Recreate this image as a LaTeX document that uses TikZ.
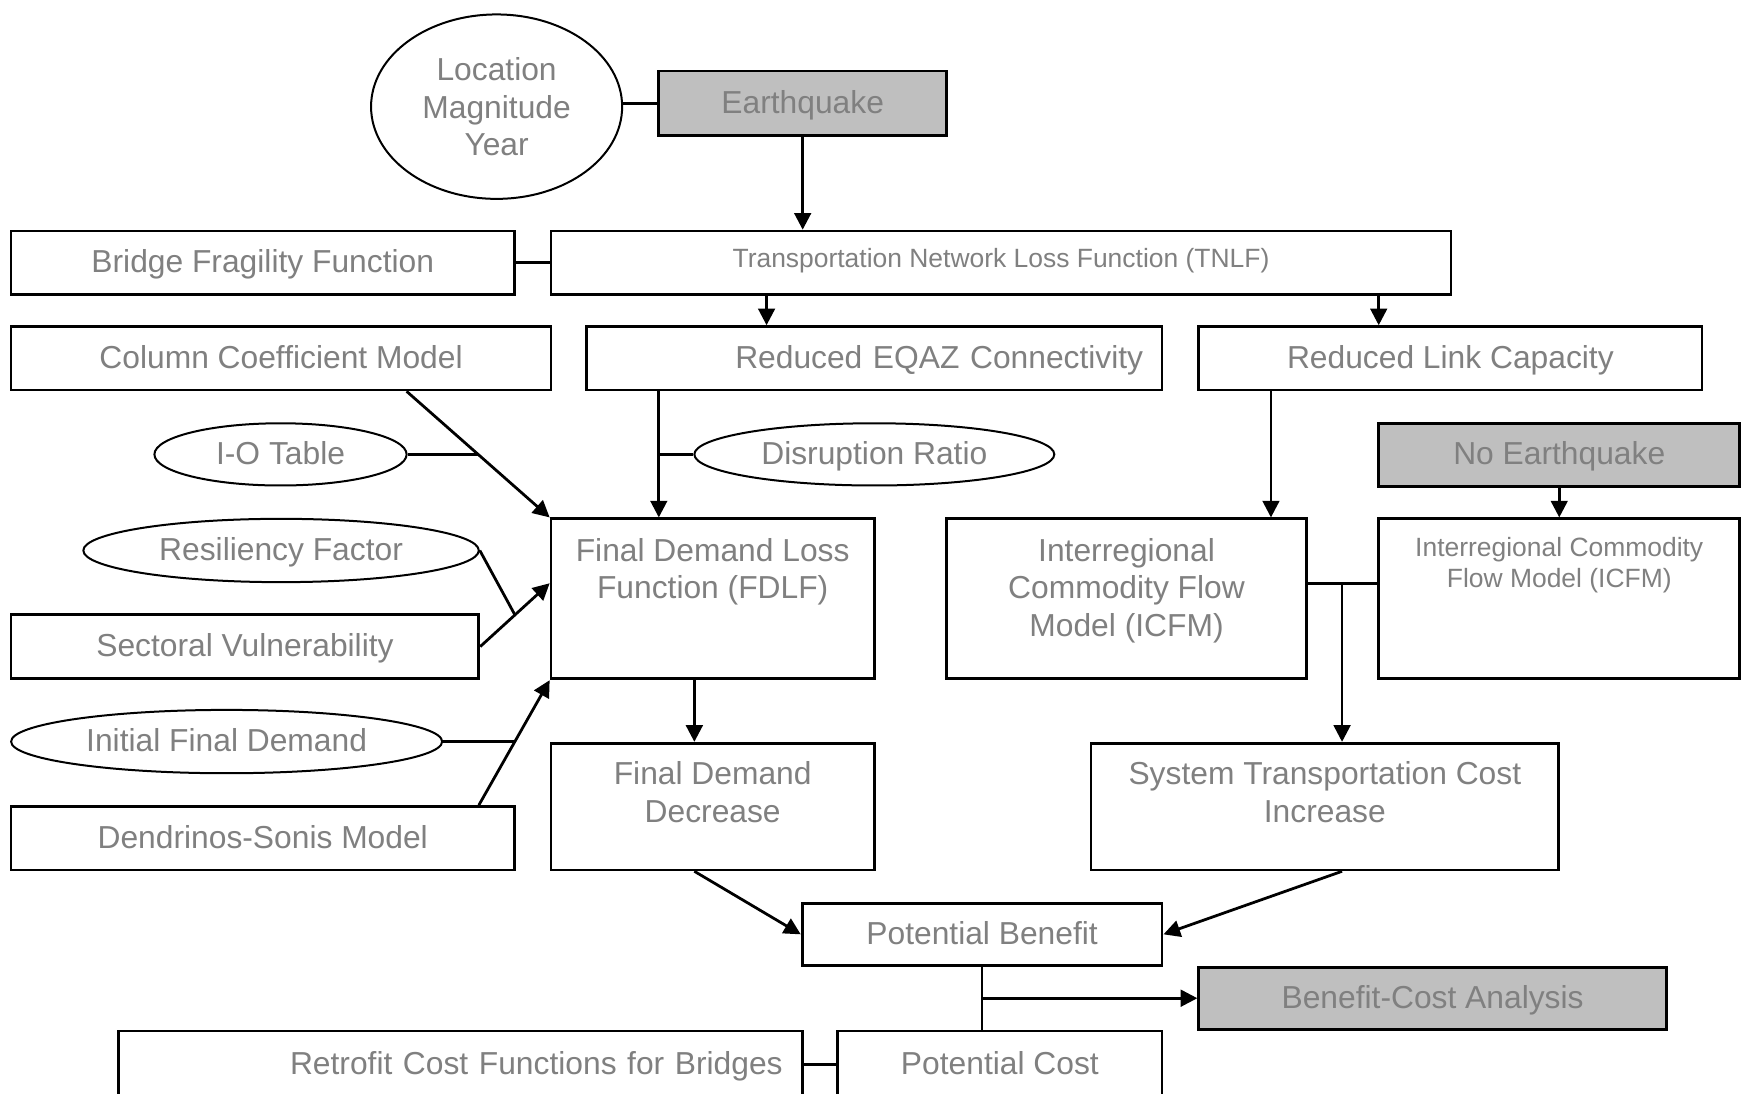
\documentclass[tikz,border=0pt]{standalone}
\usepackage{fontspec}
\setmainfont{Liberation Sans}
\usetikzlibrary{shapes.geometric,arrows.meta,calc}

\definecolor{txtgray}{RGB}{128,128,128}
\definecolor{boxgray}{RGB}{191,191,191}

\begin{document}
\begin{tikzpicture}[x=0.5pt, y=-0.5pt,
    every node/.style={text=txtgray, font=\fontsize{14.3}{17}\selectfont, inner sep=0pt, align=center},
    box/.style={draw=black, line width=1.25pt, rectangle, text height=11.2pt, text depth=2.3pt},
    shaded/.style={box, fill=boxgray},
    oval/.style={draw=black, line width=0.9pt, ellipse},
    flatoval/.style={oval, text height=11.2pt, text depth=2.3pt},
    small/.style={font=\fontsize{11.9}{14}\selectfont},
    link/.style={line width=1.25pt},
    arr/.style={line width=1.25pt, -{Triangle[length=7.5pt,width=7.5pt]}}]
        \clip (0,0) rectangle (1568,984);
        \fill[white] (0,0) rectangle (1568,984);

        \node[oval, minimum width=113pt, minimum height=83pt] (lmy) at (447,96) {Location\\Magnitude\\Year};
        \node[shaded, minimum width=129.5pt, minimum height=29pt] (quake) at (722.5,93) {Earthquake};
        \node[box, minimum width=226.5pt, minimum height=28.5pt] (bff) at (236.5,236.5) {Bridge Fragility Function};
        \node[box, small, minimum width=405pt, text height=16.25pt, text depth=12.25pt] (tnlf) at (901,236.5) {Transportation Network Loss Function (TNLF)};
        \node[box, minimum width=243pt, minimum height=28.5pt] (ccm) at (253,322.5) {Column Coefficient Model};
        \node[box, minimum width=259pt, minimum height=28.5pt, text width=242pt, align=right] (eqaz) at (787,322.5) {Reduced EQAZ Connectivity};
        \node[box, minimum width=226.5pt, minimum height=28.5pt] (rlc) at (1305.5,322.5) {Reduced Link Capacity};
        \node[flatoval, minimum width=113.5pt, minimum height=28pt] (iot) at (252.5,409) {I-O Table};
        \node[flatoval, minimum width=162pt, minimum height=28pt] (drat) at (787,409) {Disruption Ratio};
        \node[shaded, minimum width=162.5pt, minimum height=28.5pt] (noeq) at (1403.5,409.5) {No Earthquake};
        \node[flatoval, minimum width=178pt, minimum height=28.5pt] (rf) at (253,495.5) {Resiliency Factor};
        \node[box, minimum width=145.5pt, text height=36pt, text depth=36pt] (fdlf) at (641.5,539) {Final Demand Loss\\Function (FDLF)};
        \node[box, minimum width=162pt, text height=53pt, text depth=19pt] (icfm) at (1014,539) {Interregional\\Commodity Flow\\Model (ICFM)};
        \node[box, small, minimum width=162.5pt, text height=30.75pt, text depth=41.25pt] (icfmb) at (1403.5,539) {Interregional Commodity\\Flow Model (ICFM)};
        \node[box, minimum width=210.5pt, minimum height=29pt] (sv) at (220.5,582) {Sectoral Vulnerability};
        \node[flatoval, minimum width=194pt, minimum height=28.5pt] (ifd) at (204,667.5) {Initial Final Demand};
        \node[box, minimum width=226.5pt, minimum height=28.5pt] (dsm) at (236.5,754.5) {Dendrinos-Sonis Model};
        \node[box, minimum width=145.5pt, text height=35.5pt, text depth=21.5pt] (fdd) at (641.5,726) {Final Demand\\Decrease};
        \node[box, minimum width=210.5pt, text height=35.5pt, text depth=21.5pt] (stci) at (1192.5,726) {System Transportation Cost\\Increase};
        \node[box, minimum width=162pt, minimum height=28pt] (pb) at (884,841) {Potential Benefit};
        \node[shaded, minimum width=210.5pt, minimum height=28pt] (bca) at (1289.5,899) {Benefit-Cost Analysis};
        \node[box, minimum width=307.5pt, minimum height=30pt, text width=290pt, align=right] (rcf) at (414.5,958) {Retrofit Cost Functions for Bridges};
        \node[box, minimum width=146pt, minimum height=30pt] (pc) at (900,958) {Potential Cost};

        \coordinate (ccmout) at ([xshift=56.5pt]ccm.south);
        \coordinate (iomid) at ($(ccmout)!.5!(fdlf.north west)$);
        \coordinate (fdlfin) at ([xshift=-24.25pt]fdlf.north);
        \coordinate (icfmin) at ([xshift=65pt]icfm.north);
        \coordinate (svin) at ([yshift=7pt]fdlf.west);
        \coordinate (dsmout) at ([xshift=97.25pt]dsm.north);
        \coordinate (ifdmid) at ($(dsmout)!.5!(fdlf.south west)$);
        \coordinate (icfmlink) at ([yshift=7pt]icfm.east);
        \coordinate (stciin) at ([xshift=7.75pt]stci.north);
        \coordinate (pbmid) at ($(pb.south)!.5!(pb.south |- pc.north)$);

        \draw[link] (quake.west -| lmy.east) -- (quake.west);
        \draw[arr] (quake.south) -- (quake.south |- tnlf.north);
        \draw[link] (bff.east) -- (tnlf.west);
        \draw[arr] ([xshift=-48.5pt]eqaz.north |- tnlf.south) -- ([xshift=-48.5pt]eqaz.north);
        \draw[arr] ([xshift=-32.25pt]rlc.north |- tnlf.south) -- ([xshift=-32.25pt]rlc.north);

        \draw[arr] (ccmout) -- (fdlf.north west);
        \draw[link] (iot.east) -- (iomid);
        \draw[arr] (fdlfin |- eqaz.south) -- (fdlfin);
        \draw[link] (drat.west) -- (drat.west -| fdlfin);
        \draw[arr] (icfmin |- rlc.south) -- (icfmin);
        \draw[arr] (noeq.south) -- (icfmb.north);

        \draw[arr] (sv.east) -- (svin);
        \draw[link] (rf.east) -- ($(sv.east)!.5!(svin)$);
        \draw[arr] (dsmout) -- (fdlf.south west);
        \draw[link] (ifd.east) -- (ifd.east -| ifdmid);

        \draw[arr] ([xshift=-8.25pt]fdlf.south) -- ([xshift=-8.25pt]fdd.north);
        \draw[link] (icfmlink) -- (icfmlink -| icfmb.west);
        \draw[arr] (icfmlink -| stciin) -- (stciin);

        \draw[arr] ([xshift=-8.25pt]fdd.south) -- (pb.west);
        \draw[arr] ([xshift=7.75pt]stci.south) -- (pb.east);
        \draw[link] (pb.south) -- (pb.south |- pc.north);
        \draw[arr] (pbmid) -- (pbmid -| bca.west);
        \draw[link] (rcf.east) -- (pc.west);
\end{tikzpicture}
\end{document}
